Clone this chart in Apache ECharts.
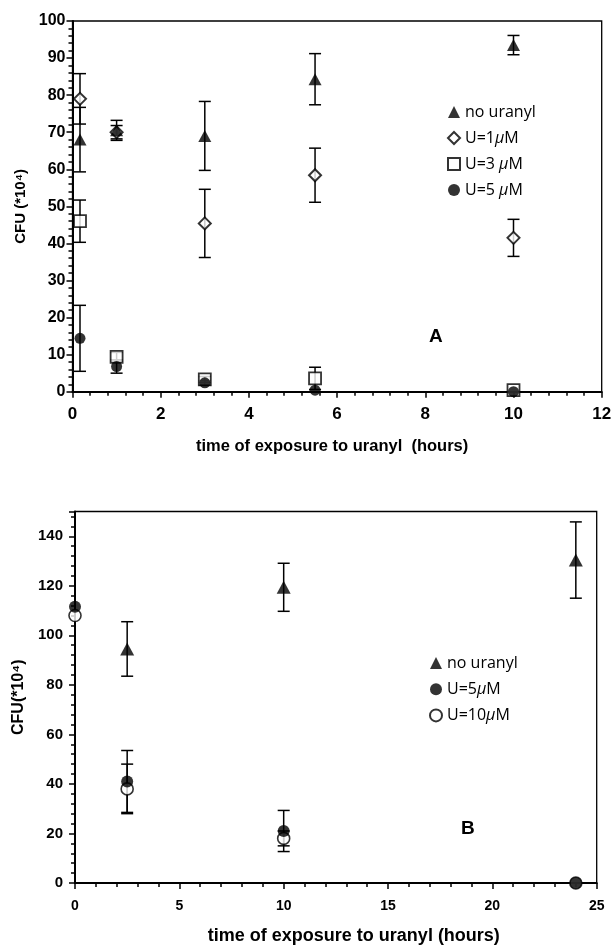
<!DOCTYPE html>
<html>
<head>
<meta charset="utf-8">
<title>CFU vs time of exposure to uranyl</title>
<script src="https://cdn.jsdelivr.net/npm/echarts@6/dist/echarts.min.js"></script>
<style>
  html, body { margin: 0; padding: 0; background: #fff; }
  #chart { width: 615px; height: 946px; }
</style>
</head>
<body>
<div id="chart"></div>
<script>
// ---- Panel A: short exposures (hours) ----
const timesA = [0.17, 1, 3, 5.5, 10];
const noUranylA = [68, 70.5, 69, 84.3, 93.5];
const noUranylAErr = [8.7, 2.7, 9.3, 6.9, 2.6];
const u1A = [79, 70, 45.4, 58.4, 41.5];
const u1AErr = [6.8, 1.8, 9.2, 7.3, 5];
const u3A = [46, 9.4, 3.3, 3.6, 0.4];
const u3AErr = [5.7, 1.2, 0.8, 3, 0];
const u5A = [14.4, 6.8, 2.4, 0.4, 0];
const u5AErr = [8.9, 1.8, 0.6, 0, 0];

// ---- Panel B: long exposures (hours) ----
const timesNoUranylB = [2.5, 10, 24];
const noUranylB = [94.5, 119.4, 130.4];
const noUranylBErr = [11, 9.7, 15.4];
const timesB = [0, 2.5, 10, 24];
const u5B = [111.5, 41, 21, 0];
const u5BErr = [0, 12.5, 8.3, 0];
const u10B = [108, 38, 18, 0];
const u10BErr = [0, 10, 3, 0];

// axis ticks
const yTicksA = { min: 0, max: 100, interval: 10 };
const xTicksA = { min: 0, max: 12, interval: 2 };
const yTicksB = { min: 0, max: 150, interval: 20 };
const xTicksB = { min: 0, max: 25, interval: 5 };

const LABEL_FONT = '"Liberation Sans", Arial, Helvetica, sans-serif';
const LEGEND_FONT = '"Open Sans", "Noto Sans", sans-serif';

const pairs = (xs, ys) => xs.map((x, i) => [x, ys[i]]);

function errorBars(gridIdx, xs, ys, errs) {
  const data = [];
  xs.forEach((x, i) => {
    if (errs[i] > 0) data.push([x, ys[i] - errs[i], ys[i] + errs[i]]);
  });
  return {
    type: 'custom',
    xAxisIndex: gridIdx,
    yAxisIndex: gridIdx,
    silent: true,
    z: 1,
    encode: { x: 0, y: [1, 2] },
    data: data,
    renderItem: function (params, api) {
      const x = api.value(0);
      const top = api.coord([x, api.value(2)]);
      const bot = api.coord([x, api.value(1)]);
      const w = 6;
      const style = { stroke: '#000', lineWidth: 1.5 };
      return {
        type: 'group',
        children: [
          { type: 'line', shape: { x1: top[0], y1: top[1], x2: bot[0], y2: bot[1] }, style: style },
          { type: 'line', shape: { x1: top[0] - w, y1: top[1], x2: top[0] + w, y2: top[1] }, style: style },
          { type: 'line', shape: { x1: bot[0] - w, y1: bot[1], x2: bot[0] + w, y2: bot[1] }, style: style }
        ]
      };
    }
  };
}

const filled = { color: '#000' };
const hollow = { color: '#fff', borderColor: '#000', borderWidth: 2 };

function xAxisCfg(gridIdx, t, name, labelSize, nameSize, nameGap, labelMargin, namePad) {
  return {
    type: 'value', gridIndex: gridIdx, min: t.min, max: t.max, interval: t.interval,
    name: name, nameLocation: 'middle', nameGap: nameGap,
    nameTextStyle: { fontFamily: LABEL_FONT, fontWeight: 'bold', fontSize: nameSize, color: '#000', padding: namePad },
    axisLine: { show: true, lineStyle: { color: '#000', width: 2 } },
    axisTick: { show: true, inside: false, length: 6, lineStyle: { color: '#000', width: 1.5 } },
    minorTick: { show: true, splitNumber: 5, length: 4, lineStyle: { color: '#000', width: 1.5 } },
    splitLine: { show: false },
    axisLabel: { fontFamily: LABEL_FONT, fontWeight: 'bold', fontSize: labelSize, color: '#000', margin: labelMargin }
  };
}

function yAxisCfg(gridIdx, t, name, labelSize, nameSize, nameGap, labelMargin, showMax) {
  return {
    type: 'value', gridIndex: gridIdx, min: t.min, max: t.max, interval: t.interval,
    name: name, nameLocation: 'middle', nameGap: nameGap, nameRotate: 90,
    nameTextStyle: { fontFamily: LABEL_FONT, fontWeight: 'bold', fontSize: nameSize, color: '#000' },
    axisLine: { show: true, lineStyle: { color: '#000', width: 2 } },
    axisTick: { show: true, inside: false, length: 6, lineStyle: { color: '#000', width: 1.5 } },
    minorTick: { show: true, splitNumber: 5, length: 4, lineStyle: { color: '#000', width: 1.5 } },
    splitLine: { show: false },
    axisLabel: { fontFamily: LABEL_FONT, fontWeight: 'bold', fontSize: labelSize, color: '#000', margin: labelMargin, showMaxLabel: showMax }
  };
}

function legendCfg(left, top, gap, names) {
  return {
    orient: 'vertical', left: left, top: top, itemGap: gap, padding: 0,
    itemWidth: 12, itemHeight: 12, selectedMode: false,
    data: names,
    textStyle: {
      fontFamily: LEGEND_FONT, fontSize: 16, color: '#000', lineHeight: 16,
      rich: { mu: { fontFamily: LEGEND_FONT, fontSize: 16, fontStyle: 'italic', color: '#000', lineHeight: 16 } }
    },
    formatter: function (n) { return n.replace('μ', '{mu|μ}'); }
  };
}

const chart = echarts.init(document.getElementById('chart'), null, { renderer: 'canvas' });

chart.setOption({
  backgroundColor: '#fff',
  animation: false,
  grid: [
    { left: 72.5, right: 13.3, top: 21, height: 370.7, show: true, borderColor: '#000', borderWidth: 1.3, backgroundColor: 'transparent' },
    { left: 75, right: 18.3, top: 511.5, height: 375, show: true, borderColor: '#000', borderWidth: 1.3, backgroundColor: 'transparent' }
  ],
  xAxis: [
    xAxisCfg(0, xTicksA, 'time of exposure to uranyl  (hours)', 17, 16.5, 46, 14, [0, 10, 0, 0]),
    xAxisCfg(1, xTicksB, 'time of exposure to uranyl (hours)', 14, 18, 44, 16, [0, 0, 0, 36])
  ],
  yAxis: [
    yAxisCfg(0, yTicksA, 'CFU (*10⁴)', 16, 15, 44, 7, true),
    yAxisCfg(1, yTicksB, 'CFU(*10⁴)', 15, 16, 48, 12, false)
  ],
  legend: [
    legendCfg(447, 104, 10, ['no uranyl', 'U=1μM', 'U=3 μM', 'U=5 μM']),
    legendCfg(429, 655, 10.2, ['no uranyl', 'U=5μM', 'U=10μM'])
  ],
  graphic: [
    { type: 'text', left: 429, top: 327, style: { text: 'A', font: 'bold 19px ' + LABEL_FONT, fill: '#000' } },
    { type: 'text', left: 461, top: 819, style: { text: 'B', font: 'bold 19px ' + LABEL_FONT, fill: '#000' } }
  ],
  series: [
    // Panel A
    errorBars(0, timesA, noUranylA, noUranylAErr),
    errorBars(0, timesA, u1A, u1AErr),
    errorBars(0, timesA, u3A, u3AErr),
    errorBars(0, timesA, u5A, u5AErr),
    { name: 'no uranyl', type: 'scatter', xAxisIndex: 0, yAxisIndex: 0, symbol: 'triangle', symbolSize: [13, 12], itemStyle: filled, data: pairs(timesA, noUranylA), z: 4 },
    { name: 'U=1μM', type: 'scatter', xAxisIndex: 0, yAxisIndex: 0, symbol: 'diamond', symbolSize: [12, 12], itemStyle: hollow, data: pairs(timesA, u1A), z: 3 },
    { name: 'U=3 μM', type: 'scatter', xAxisIndex: 0, yAxisIndex: 0, symbol: 'rect', symbolSize: 12, itemStyle: { color: '#fff', borderColor: '#000', borderWidth: 1.8 }, data: pairs(timesA, u3A), z: 3 },
    { name: 'U=5 μM', type: 'scatter', xAxisIndex: 0, yAxisIndex: 0, symbol: 'circle', symbolSize: 11, itemStyle: filled, data: pairs(timesA, u5A), z: 4 },
    // Panel B
    errorBars(1, timesNoUranylB, noUranylB, noUranylBErr),
    errorBars(1, timesB, u5B, u5BErr),
    errorBars(1, timesB, u10B, u10BErr),
    { name: 'no uranyl', type: 'scatter', xAxisIndex: 1, yAxisIndex: 1, symbol: 'triangle', symbolSize: [14, 13], itemStyle: filled, data: pairs(timesNoUranylB, noUranylB), z: 3 },
    { name: 'U=10μM', type: 'scatter', xAxisIndex: 1, yAxisIndex: 1, symbol: 'circle', symbolSize: 12, itemStyle: { color: '#fff', borderColor: '#000', borderWidth: 1.6 }, data: pairs(timesB, u10B), z: 3 },
    { name: 'U=5μM', type: 'scatter', xAxisIndex: 1, yAxisIndex: 1, symbol: 'circle', symbolSize: 12, itemStyle: filled, data: pairs(timesB, u5B), z: 4 }
  ]
});
</script>
</body>
</html>
